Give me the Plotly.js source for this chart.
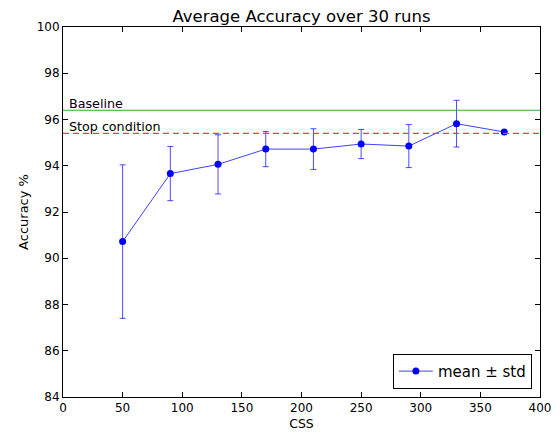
<!DOCTYPE html>
<html><head><meta charset="utf-8">
<script src="https://cdn.plot.ly/plotly-3.0.1.min.js"></script>
<style>body{margin:0;background:#fff}#chart{width:560px;height:436px}</style>
</head><body><div id="chart"></div>
<script>
const css = [50, 90, 130, 170, 210, 250, 290, 330, 370];
const meanAcc = [90.72, 93.66, 94.06, 94.72, 94.72, 94.94, 94.85, 95.82, 95.46];
const stdAcc = [3.32, 1.17, 1.28, 0.76, 0.88, 0.63, 0.93, 1.01, 0.0];
const baseline = 96.40;
const stopCondition = 95.40;
const font = "DejaVu Sans, sans-serif";

const traces = [{
  x: css, y: meanAcc, type: 'scatter', mode: 'lines+markers',
  name: 'mean \u00b1 std',
  line: {color: 'rgba(0,0,255,0.75)', width: 1},
  marker: {color: '#0000ff', size: 7},
  error_y: {type: 'data', array: stdAcc, visible: true, color: 'rgba(0,0,255,0.7)', thickness: 1, width: 3}
}];

const layout = {
  width: 560, height: 436,
  margin: {l: 63, r: 20, t: 27, b: 39},
  paper_bgcolor: '#fff', plot_bgcolor: '#fff',
  font: {family: font, size: 12, color: '#000'},
  title: {text: 'Average Accuracy over 30 runs', font: {family: font, size: 16.5}, xref: 'paper', x: 0.5, xanchor: 'center', yref: 'container', y: 0.962, yanchor: 'middle'},
  xaxis: {
    range: [0, 400], tickvals: [0,50,100,150,200,250,300,350,400],
    ticks: 'inside', ticklen: 5, tickcolor: '#000', mirror: 'allticks',
    showline: true, linecolor: '#000', linewidth: 1, showgrid: false, zeroline: false,
    title: {text: 'CSS', font: {family: font, size: 12.5}, standoff: 4},
    tickfont: {family: font, size: 12}
  },
  yaxis: {
    range: [84, 100], tickvals: [84,86,88,90,92,94,96,98,100],
    ticks: 'inside', ticklen: 5, tickcolor: '#000', mirror: 'allticks',
    showline: true, linecolor: '#000', linewidth: 1, showgrid: false, zeroline: false,
    title: {text: 'Accuracy %', font: {family: font, size: 13}, standoff: 5},
    tickfont: {family: font, size: 12}
  },
  shapes: [
    {type: 'line', xref: 'paper', x0: 0, x1: 1, yref: 'y', y0: baseline, y1: baseline, line: {color: '#33a833', width: 1.2}},
    {type: 'line', xref: 'paper', x0: 0, x1: 1, yref: 'y', y0: stopCondition, y1: stopCondition, line: {color: '#ff3b3b', width: 1.3, dash: '6px,4px'}}
  ],
  annotations: [
    {text: 'Baseline', xref: 'paper', x: 0.008, yref: 'y', y: baseline, xanchor: 'left', yanchor: 'bottom', showarrow: false, font: {family: font, size: 12.7}, yshift: -3},
    {text: 'Stop condition', xref: 'paper', x: 0.008, yref: 'y', y: stopCondition, xanchor: 'left', yanchor: 'bottom', showarrow: false, font: {family: font, size: 12.7}, yshift: -3}
  ],
  showlegend: true,
  legend: {x: 0.983, y: 0.022, xanchor: 'right', yanchor: 'bottom', bordercolor: '#000', borderwidth: 1, bgcolor: '#fff', font: {family: font, size: 15}, itemwidth: 34, tracegroupgap: 0}
};
Plotly.newPlot('chart', traces, layout, {displayModeBar: false, staticPlot: true});
</script></body></html>
